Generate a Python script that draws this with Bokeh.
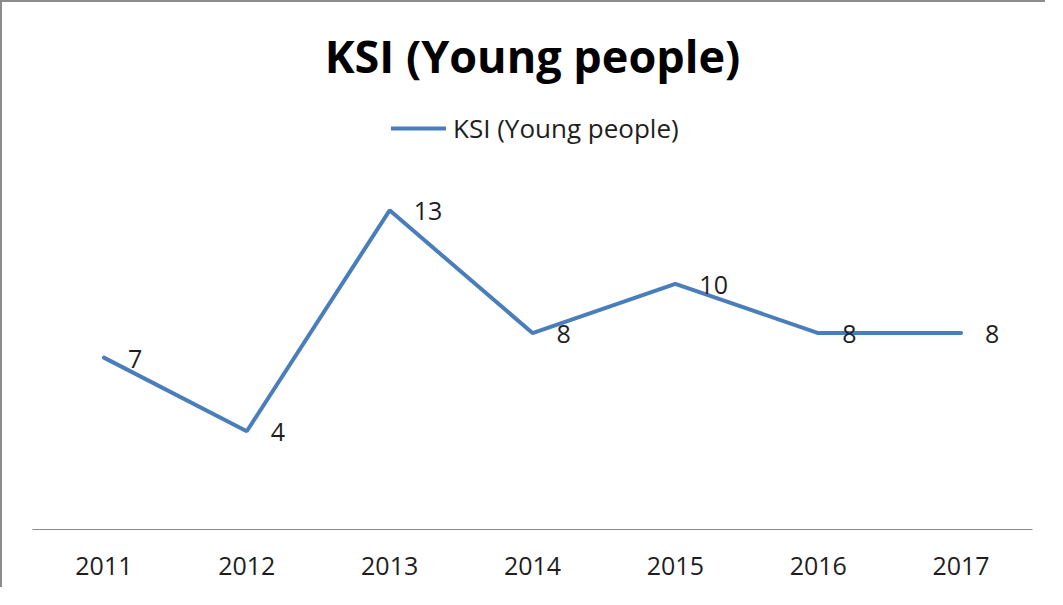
from bokeh.plotting import figure
from bokeh.models import Range1d, FactorRange, ColumnDataSource, Legend, LegendItem, LabelSet
from bokeh.core.properties import value
from bokeh.embed import file_html
from bokeh.resources import INLINE

years = ["2011", "2012", "2013", "2014", "2015", "2016", "2017"]
ksi = [7, 4, 13, 8, 10, 8, 8]
chart_title = "KSI (Young people)"
series_name = "KSI (Young people)"

FONT = "Open Sans"

src = ColumnDataSource(dict(year=years, ksi=ksi, label=[str(v) for v in ksi]))

p = figure(x_range=FactorRange(*years), y_range=Range1d(0, 17.39),
           width=1045, height=587, output_backend="svg", toolbar_location=None,
           y_axis_location=None,
           min_border_left=30, min_border_right=15, min_border_bottom=60, min_border_top=100)
p.styles = {"border-top": "2px solid #8c8c8c", "border-left": "2px solid #8c8c8c"}
p.outline_line_color = None
p.xgrid.visible = False
p.ygrid.visible = False
p.background_fill_color = "white"
p.border_fill_color = "white"

r = p.line("year", "ksi", source=src, line_color="#4A7EBB", line_width=4, line_cap="round")

labels = LabelSet(x="year", y="ksi", text="label", source=src, x_offset=24, y_offset=-1,
                  text_baseline="middle", text_align="left",
                  text_font=value(FONT), text_font_size="25px", text_color="#1e1e1e")
p.add_layout(labels)

ax = p.xaxis[0]
ax.axis_line_color = "#898989"
ax.axis_line_width = 1
ax.major_tick_line_color = None
ax.minor_tick_line_color = None
ax.major_tick_out = 0
ax.major_tick_in = 0
ax.major_label_standoff = 27
ax.major_label_text_font = FONT
ax.major_label_text_font_size = "25px"
ax.major_label_text_color = "#1e1e1e"

p.title.text = chart_title
p.title.text_font = FONT
p.title.text_font_style = "bold"
p.title.text_font_size = "45px"
p.title.align = "center"
p.title.text_color = "black"
p.title.standoff = 33

legend = Legend(items=[LegendItem(label=series_name, renderers=[r])],
                location=(359, 383), orientation="horizontal",
                glyph_width=55, glyph_height=24, label_standoff=7, padding=0, margin=0,
                border_line_color=None, background_fill_alpha=0,
                label_text_font=FONT, label_text_font_size="26px", label_text_color="#1e1e1e")
p.add_layout(legend)

open("out.html", "w").write(file_html(p, INLINE))
